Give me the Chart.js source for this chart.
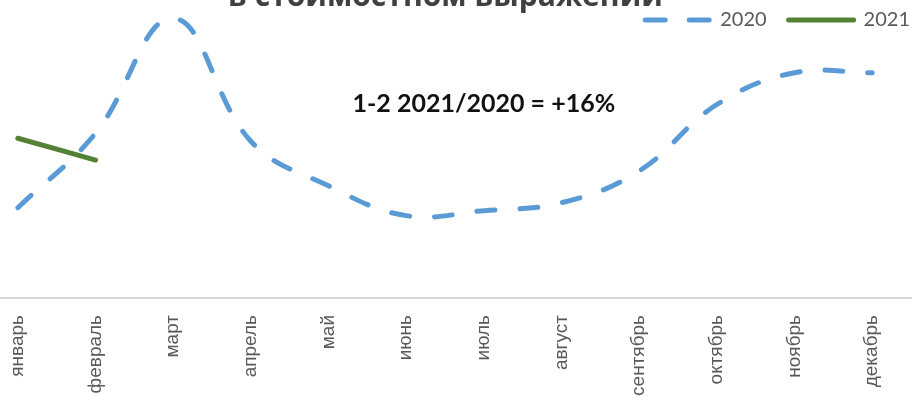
<!DOCTYPE html>
<html>
<head>
<meta charset="utf-8">
<script src="https://cdn.jsdelivr.net/npm/chart.js@4.4.0/dist/chart.umd.min.js"></script>
<style>
  html, body { margin: 0; padding: 0; background: #fff; overflow: hidden; }
  body { width: 920px; height: 405px; position: relative; }
  #wrap { position: absolute; left: -41px; top: -21px; width: 973px; height: 439px; }
</style>
</head>
<body>
<div id="wrap"><canvas id="salesChart"></canvas></div>
<script>
var months = ['январь','февраль','март','апрель','май','июнь','июль','август','сентябрь','октябрь','ноябрь','декабрь'];
var sales2020 = [91, 166, 282, 158, 113, 83, 88, 96, 128, 195, 227, 227];
var sales2021 = [161, 139];
var chartTitle = 'в стоимостном выражении';
var noteText = '1-2 2021/2020 = +16%';

// подпись с приростом
var notePlugin = {
  id: 'note',
  afterDraw: function(chart) {
    var ctx = chart.ctx;
    var x = chart.scales.x.getPixelForValue(6);
    var y = chart.scales.y.getPixelForValue(196);
    ctx.save();
    ctx.font = 'bold 25px Lato, "Open Sans", sans-serif';
    ctx.fillStyle = '#111';
    ctx.textAlign = 'center';
    ctx.textBaseline = 'middle';
    ctx.fillText(noteText, x, y);
    ctx.restore();
  }
};

// легенда с линиями как у графика (пунктир у 2020)
function legendLabels(chart) {
  var items = Chart.defaults.plugins.legend.labels.generateLabels(chart);
  items.forEach(function(it) {
    var ds = chart.data.datasets[it.datasetIndex];
    it.lineDash = ds.borderDash ? [20, 24] : [];
    it.lineWidth = ds.borderWidth;
    it.lineCap = ds.borderCapStyle;
    it.strokeStyle = ds.borderColor;
  });
  return items;
}

// пустые оси по краям, только чтобы сдвинуть область графика
var hiddenAxis = {
  grid: { display: false },
  border: { display: false },
  ticks: { display: false }
};

new Chart('salesChart', {
  type: 'line',
  data: {
    labels: months,
    datasets: [{
      label: '2020',
      data: sales2020,
      borderColor: '#5B9BD5',
      backgroundColor: '#5B9BD5',
      borderWidth: 5,
      borderDash: [18, 25],
      borderCapStyle: 'round',
      pointRadius: 0,
      tension: 0.4,
      fill: false,
      clip: false
    }, {
      label: '2021',
      data: sales2021,
      borderColor: '#548235',
      backgroundColor: '#548235',
      borderWidth: 5,
      borderCapStyle: 'round',
      pointRadius: 0,
      tension: 0.4,
      fill: false,
      clip: false
    }]
  },
  plugins: [notePlugin],
  options: {
    responsive: true,
    maintainAspectRatio: false,
    animation: false,
    layout: { padding: 0 },
    plugins: {
      title: {
        display: true,
        text: chartTitle,
        color: '#404040',
        font: { family: '"Open Sans", sans-serif', size: 30, weight: 'bold', lineHeight: 1.2 },
        padding: { top: 0, bottom: -27 }
      },
      legend: {
        display: true,
        position: 'top',
        align: 'end',
        labels: {
          usePointStyle: true,
          pointStyle: 'line',
          pointStyleWidth: 65,
          color: '#595959',
          font: { family: 'Lato, "Open Sans", sans-serif', size: 20 },
          padding: 22,
          generateLabels: legendLabels
        }
      },
      tooltip: { enabled: false }
    },
    scales: {
      x: {
        offset: true,
        grid: { display: false, drawTicks: false },
        border: { display: true, color: '#d9d9d9', width: 2 },
        ticks: {
          minRotation: 90,
          maxRotation: 90,
          padding: 17,
          color: '#595959',
          font: { family: '"Liberation Sans", Arial, sans-serif', size: 19 }
        },
        afterFit: function(scale) { scale.height = 120; }
      },
      y: Object.assign({}, hiddenAxis, {
        position: 'left',
        min: 0,
        max: 260,
        afterFit: function(scale) { scale.width = 20; }
      }),
      yRight: Object.assign({}, hiddenAxis, {
        type: 'linear',
        position: 'right',
        afterFit: function(scale) { scale.width = 21; }
      })
    }
  }
});
</script>
</body>
</html>
